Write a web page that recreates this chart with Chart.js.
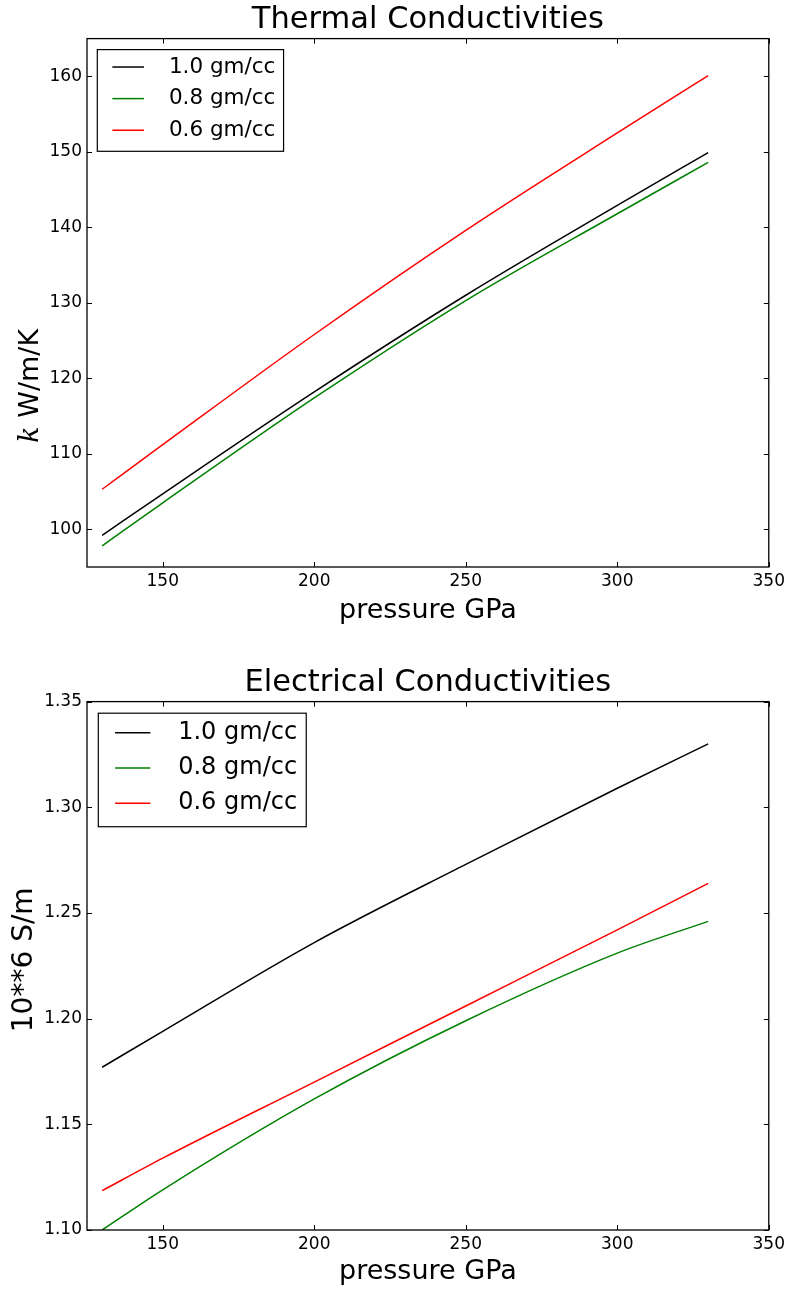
<!DOCTYPE html>
<html>
<head>
<meta charset="utf-8">
<script src="https://cdn.jsdelivr.net/npm/chart.js@4.4.1/dist/chart.umd.min.js"></script>
<style>
    html, body { margin: 0; padding: 0; background: #fff; }
    #wrap { position: relative; width: 789px; height: 1291px; }
    canvas { position: absolute; left: 0; }
    #thermalChart { top: 0; }
    #electricalChart { top: 645px; }
</style>
</head>
<body>
<div id="wrap">
    <canvas id="thermalChart" width="789" height="645"></canvas>
    <canvas id="electricalChart" width="789" height="646"></canvas>
</div>
<script>
// values
const pressure = [130, 150, 200, 250, 300, 330];
const densityLabels = ['1.0 gm/cc', '0.8 gm/cc', '0.6 gm/cc'];
const lineColors = ['#000000', '#008000', '#ff0000'];

const thermal10 = [99.2, 104.7, 118.2, 131.0, 142.9, 149.9];
const thermal08 = [97.8, 103.5, 117.4, 130.3, 141.8, 148.6];
const thermal06 = [105.3, 111.2, 125.8, 139.6, 152.5, 160.1];

const electrical10 = [1.177, 1.194, 1.236, 1.273, 1.309, 1.330];
const electrical08 = [1.100, 1.119, 1.162, 1.199, 1.231, 1.246];
const electrical06 = [1.1186, 1.134, 1.170, 1.206, 1.242, 1.264];

const pressureTicks = [150, 200, 250, 300, 350];
const thermalTicks = [100, 110, 120, 130, 140, 150, 160];
const electricalTicks = [1.10, 1.15, 1.20, 1.25, 1.30, 1.35];

const FONT = "'DejaVu Sans', 'Liberation Sans', sans-serif";

// box round the axes plus inward ticks on all four sides (matplotlib classic look)
const framePlugin = {
    id: 'frame',
    afterDatasetsDraw(chart) {
        const { ctx, chartArea: a, scales } = chart;
        const len = 5;
        ctx.save();
        ctx.strokeStyle = '#000';
        ctx.lineWidth = 1;
        ctx.beginPath();
        scales.x.ticks.forEach(t => {
            const px = Math.round(scales.x.getPixelForValue(t.value)) + 0.5;
            ctx.moveTo(px, a.bottom); ctx.lineTo(px, a.bottom - len);
            ctx.moveTo(px, a.top); ctx.lineTo(px, a.top + len);
        });
        scales.y.ticks.forEach(t => {
            const py = Math.round(scales.y.getPixelForValue(t.value)) + 0.5;
            ctx.moveTo(a.left, py); ctx.lineTo(a.left + len, py);
            ctx.moveTo(a.right, py); ctx.lineTo(a.right - len, py);
        });
        ctx.stroke();
        ctx.lineWidth = 1.3;
        ctx.strokeRect(a.left, a.top, a.right - a.left, a.bottom - a.top);
        ctx.restore();
    }
};

// legend box in the upper left corner of the axes
const boxLegendPlugin = {
    id: 'boxLegend',
    afterDraw(chart, args, opts) {
        const { ctx, chartArea: a } = chart;
        const f = opts.fontSize;
        ctx.save();
        ctx.font = f + 'px ' + FONT;
        const sets = chart.data.datasets;
        let textW = 0;
        sets.forEach(ds => { textW = Math.max(textW, ctx.measureText(ds.label).width); });
        const x0 = a.left + opts.offsetX;
        const y0 = a.top + opts.offsetY;
        const padL = 0.7 * f, lineLen = 1.47 * f, gap = 1.16 * f, row = 1.47 * f;
        const w = padL + lineLen + gap + textW + 0.38 * f;
        const h = 0.81 * f + row * (sets.length - 1) + 0.98 * f;
        ctx.fillStyle = '#fff';
        ctx.fillRect(x0, y0, w, h);
        ctx.strokeStyle = '#000';
        ctx.lineWidth = 1.2;
        ctx.strokeRect(x0, y0, w, h);
        sets.forEach((ds, i) => {
            const y = y0 + 0.81 * f + row * i;
            ctx.strokeStyle = ds.borderColor;
            ctx.lineWidth = 1.5;
            ctx.beginPath();
            ctx.moveTo(x0 + padL, y);
            ctx.lineTo(x0 + padL + lineLen, y);
            ctx.stroke();
            ctx.fillStyle = '#000';
            ctx.textBaseline = 'middle';
            ctx.textAlign = 'left';
            ctx.fillText(ds.label, x0 + padL + lineLen + gap, y);
        });
        ctx.restore();
    }
};

// rotated y label, allows an italic math symbol in front
const yLabelPlugin = {
    id: 'yLabel',
    afterDraw(chart, args, o) {
        const { ctx, chartArea: a } = chart;
        ctx.save();
        ctx.translate(o.x, (a.top + a.bottom) / 2 + o.shift);
        ctx.rotate(-Math.PI / 2);
        ctx.textBaseline = 'middle';
        ctx.textAlign = 'left';
        ctx.fillStyle = '#000';
        let total = 0;
        o.parts.forEach(p => { ctx.font = p.font; total += ctx.measureText(p.text).width; });
        let x = -total / 2;
        o.parts.forEach(p => {
            ctx.font = p.font;
            ctx.fillText(p.text, x, 0);
            x += ctx.measureText(p.text).width;
        });
        ctx.restore();
    }
};

function makeChart(canvasId, cfg) {
    const ctx = document.getElementById(canvasId).getContext('2d');
    const canvasH = ctx.canvas.height;
    return new Chart(ctx, {
        type: 'line',
        data: {
            datasets: cfg.series.map((vals, i) => ({
                label: densityLabels[i],
                data: pressure.map((p, j) => ({ x: p, y: vals[j] })),
                borderColor: lineColors[i],
                backgroundColor: lineColors[i],
                borderWidth: 1.5,
                pointRadius: 0,
                fill: false,
                cubicInterpolationMode: 'monotone'
            }))
        },
        options: {
            responsive: false,
            animation: false,
            devicePixelRatio: 1,
            layout: { padding: { left: 0, right: 20, top: 0, bottom: 0 } },
            plugins: {
                legend: { display: false },
                tooltip: { enabled: false },
                title: {
                    display: true,
                    text: cfg.title,
                    fullSize: false,
                    color: '#000',
                    font: { family: FONT, size: 30.5, weight: 'normal' },
                    padding: { top: cfg.titleTop, bottom: 0 }
                },
                boxLegend: cfg.legend,
                yLabel: cfg.yLabel
            },
            scales: {
                x: {
                    type: 'linear',
                    min: 125,
                    max: 350,
                    afterBuildTicks: s => { s.ticks = pressureTicks.map(v => ({ value: v })); },
                    afterFit: s => { s.height = canvasH - cfg.areaBottom; },
                    grid: { display: false, drawTicks: false },
                    border: { display: false },
                    ticks: { color: '#000', font: { family: FONT, size: 17 }, padding: 4, maxRotation: 0 },
                    title: {
                        display: true,
                        text: 'pressure GPa',
                        color: '#000',
                        font: { family: FONT, size: 27 },
                        padding: { top: 0, bottom: cfg.xTitlePad }
                    }
                },
                y: {
                    type: 'linear',
                    min: cfg.yMin,
                    max: cfg.yMax,
                    afterBuildTicks: s => { s.ticks = cfg.yTicks.map(v => ({ value: v })); },
                    afterFit: s => { s.width = 87; },
                    grid: { display: false, drawTicks: false },
                    border: { display: false },
                    ticks: { color: '#000', font: { family: FONT, size: 17 }, padding: 5, callback: cfg.yFormat },
                    title: { display: false }
                }
            }
        },
        plugins: [framePlugin, boxLegendPlugin, yLabelPlugin]
    });
}

document.addEventListener('DOMContentLoaded', function () {
    makeChart('thermalChart', {
        series: [thermal10, thermal08, thermal06],
        title: 'Thermal Conductivities',
        titleTop: 2,
        areaBottom: 567,
        xTitlePad: 18,
        yMin: 95,
        yMax: 165,
        yTicks: thermalTicks,
        yFormat: v => String(v),
        yLabel: {
            x: 31, shift: 83,
            parts: [
                { text: 'k', font: "italic 27px 'DejaVu Serif', serif" },
                { text: ' W/m/K', font: '27px ' + FONT }
            ]
        },
        legend: { fontSize: 21.5, offsetX: 10.3, offsetY: 11 }
    });

    makeChart('electricalChart', {
        series: [electrical10, electrical08, electrical06],
        title: 'Electrical Conductivities',
        titleTop: 20,
        areaBottom: 585,
        xTitlePad: 2.5,
        yMin: 1.10,
        yMax: 1.35,
        yTicks: electricalTicks,
        yFormat: v => Number(v).toFixed(2),
        yLabel: {
            x: 25, shift: -6,
            parts: [{ text: '10**6 S/m', font: '28px ' + FONT }]
        },
        legend: { fontSize: 24, offsetX: 11.3, offsetY: 11.6 }
    });
});
</script>
</body>
</html>
